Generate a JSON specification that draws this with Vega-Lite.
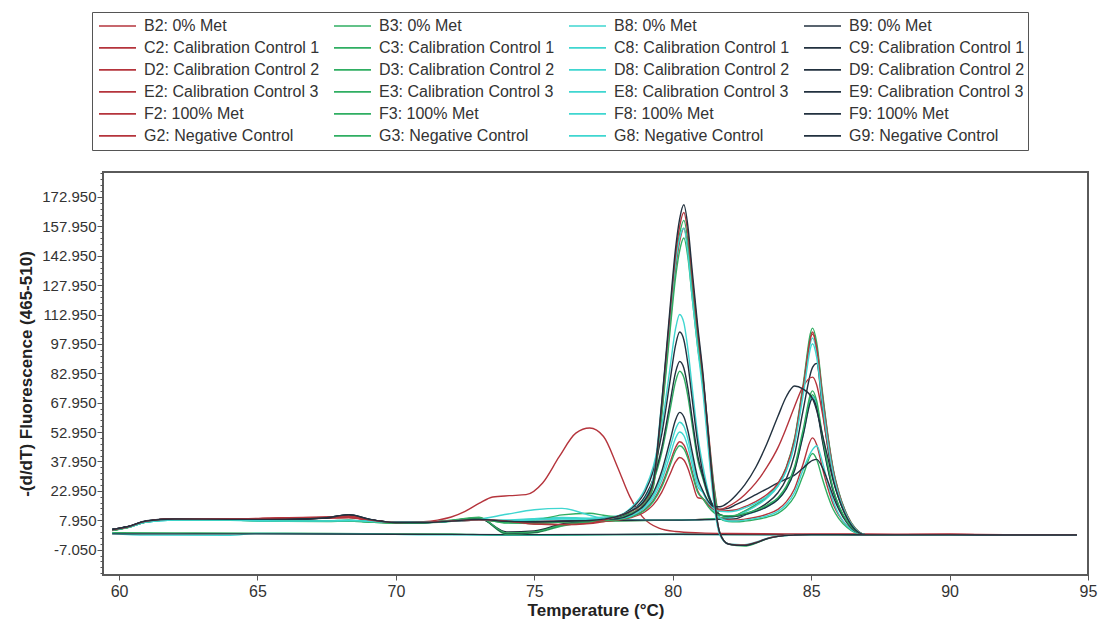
{
"$schema": "https://vega.github.io/schema/vega-lite/v6.json",
"width": 985, "height": 403,
"autosize": {"type": "none"},
"padding": {"left": 103, "top": 172, "right": 12, "bottom": 49},
"background": "white",
"config": {"view": {"stroke": "#5a5a5a", "strokeWidth": 2}, "font": "Liberation Sans"},
"datasets": {
"names": [
{"k":"B2","n":"B2: 0% Met"},{"k":"B3","n":"B3: 0% Met"},{"k":"B8","n":"B8: 0% Met"},{"k":"B9","n":"B9: 0% Met"},
{"k":"C2","n":"C2: Calibration Control 1"},{"k":"C3","n":"C3: Calibration Control 1"},{"k":"C8","n":"C8: Calibration Control 1"},{"k":"C9","n":"C9: Calibration Control 1"},
{"k":"D2","n":"D2: Calibration Control 2"},{"k":"D3","n":"D3: Calibration Control 2"},{"k":"D8","n":"D8: Calibration Control 2"},{"k":"D9","n":"D9: Calibration Control 2"},
{"k":"E2","n":"E2: Calibration Control 3"},{"k":"E3","n":"E3: Calibration Control 3"},{"k":"E8","n":"E8: Calibration Control 3"},{"k":"E9","n":"E9: Calibration Control 3"},
{"k":"F2","n":"F2: 100% Met"},{"k":"F3","n":"F3: 100% Met"},{"k":"F8","n":"F8: 100% Met"},{"k":"F9","n":"F9: 100% Met"},
{"k":"G2","n":"G2: Negative Control"},{"k":"G3","n":"G3: Negative Control"},{"k":"G8","n":"G8: Negative Control"},{"k":"G9","n":"G9: Negative Control"}
],
"curves": [
{"k":"G3","x":59.75,"y":1.6},{"k":"G3","x":62,"y":1.5},{"k":"G3","x":66,"y":1.3},{"k":"G3","x":70,"y":1.0},{"k":"G3","x":72,"y":1.0},{"k":"G3","x":73.5,"y":0.3},{"k":"G3","x":75,"y":0.2},{"k":"G3","x":77,"y":0.5},{"k":"G3","x":80,"y":0.8},{"k":"G3","x":84,"y":0.6},{"k":"G3","x":88,"y":0.5},{"k":"G3","x":94.6,"y":0.4},
{"k":"G8","x":59.75,"y":1.2},{"k":"G8","x":61,"y":0.4},{"k":"G8","x":64,"y":0.3},{"k":"G8","x":65,"y":1.2},{"k":"G8","x":69,"y":1.0},{"k":"G8","x":71,"y":0.5},{"k":"G8","x":75,"y":0.4},{"k":"G8","x":80,"y":0.7},{"k":"G8","x":85,"y":0.5},{"k":"G8","x":90,"y":0.4},{"k":"G8","x":94.6,"y":0.3},
{"k":"G9","x":59.75,"y":1.0},{"k":"G9","x":64,"y":1.0},{"k":"G9","x":70,"y":0.8},{"k":"G9","x":75,"y":0.6},{"k":"G9","x":80,"y":0.8},{"k":"G9","x":85,"y":0.6},{"k":"G9","x":90,"y":0.5},{"k":"G9","x":94.6,"y":0.3},
{"k":"G2","x":59.75,"y":3},{"k":"G2","x":60.3,"y":4.4},{"k":"G2","x":61,"y":7.3},{"k":"G2","x":62,"y":8.4},{"k":"G2","x":64,"y":8.4},{"k":"G2","x":66,"y":8.8},{"k":"G2","x":67.5,"y":9},{"k":"G2","x":68.3,"y":9.2},{"k":"G2","x":69,"y":8},{"k":"G2","x":70,"y":6.8},{"k":"G2","x":71,"y":7.2},{"k":"G2","x":71.5,"y":8},{"k":"G2","x":72,"y":9.6},{"k":"G2","x":72.5,"y":12.5},{"k":"G2","x":73,"y":16.5},{"k":"G2","x":73.5,"y":19.8},{"k":"G2","x":74.1,"y":20.5},{"k":"G2","x":74.7,"y":21},{"k":"G2","x":75.3,"y":27},{"k":"G2","x":75.9,"y":40.4},{"k":"G2","x":76.5,"y":52.4},{"k":"G2","x":77,"y":55},{"k":"G2","x":77.5,"y":50.7},{"k":"G2","x":78,"y":35.3},{"k":"G2","x":78.45,"y":20},{"k":"G2","x":78.9,"y":9.8},{"k":"G2","x":79.5,"y":3.9},{"k":"G2","x":80.1,"y":2.2},{"k":"G2","x":81,"y":1.5},{"k":"G2","x":82,"y":1.2},{"k":"G2","x":84,"y":1},{"k":"G2","x":86,"y":1},{"k":"G2","x":88,"y":0.8},{"k":"G2","x":90,"y":0.8},{"k":"G2","x":92,"y":0.6},{"k":"G2","x":94.6,"y":0.6},

{"k":"F2","x":59.75,"y":3},{"k":"F2","x":60.3,"y":4.4},{"k":"F2","x":61,"y":7.3},{"k":"F2","x":62,"y":8.5},{"k":"F2","x":64,"y":8.4},{"k":"F2","x":66,"y":8.8},{"k":"F2","x":67.5,"y":9.2},{"k":"F2","x":68.3,"y":9.4},{"k":"F2","x":69,"y":8},{"k":"F2","x":70,"y":6.8},{"k":"F2","x":71,"y":6.9},{"k":"F2","x":72,"y":7.5},{"k":"F2","x":73,"y":8},{"k":"F2","x":74,"y":7.5},{"k":"F2","x":75,"y":7.2},{"k":"F2","x":76,"y":7.3},{"k":"F2","x":77,"y":7.6},
{"k":"F2","x":78,"y":7.8},{"k":"F2","x":79,"y":7.9},{"k":"F2","x":80,"y":8},{"k":"F2","x":81,"y":8.3},{"k":"F2","x":81.7,"y":8.8},{"k":"F2","x":82,"y":9.4},
{"k":"F2","x":82.3,"y":10.4},{"k":"F2","x":82.6,"y":12.5},{"k":"F2","x":83,"y":15.6},{"k":"F2","x":83.4,"y":19.8},{"k":"F2","x":83.8,"y":26},{"k":"F2","x":84.1,"y":34.3},{"k":"F2","x":84.4,"y":48.9},{"k":"F2","x":84.7,"y":74.9},{"k":"F2","x":85.05,"y":104},{"k":"F2","x":85.2,"y":96.7},{"k":"F2","x":85.4,"y":72.8},{"k":"F2","x":85.6,"y":51},{"k":"F2","x":85.8,"y":33.3},{"k":"F2","x":86,"y":21.8},{"k":"F2","x":86.3,"y":10.4},{"k":"F2","x":86.6,"y":3.6},{"k":"F2","x":87,"y":0.5},
{"k":"F2","x":88,"y":0.6},{"k":"F2","x":90,"y":0.7},{"k":"F2","x":92,"y":0.5},{"k":"F2","x":94.6,"y":0.5},

{"k":"F3","x":59.75,"y":2.7},{"k":"F3","x":60.3,"y":4.1},{"k":"F3","x":61,"y":7.1},{"k":"F3","x":62,"y":8.2},{"k":"F3","x":64,"y":8},{"k":"F3","x":66,"y":7.4},{"k":"F3","x":67.5,"y":7.3},{"k":"F3","x":68.3,"y":7.5},{"k":"F3","x":69,"y":7},{"k":"F3","x":70,"y":6.5},{"k":"F3","x":71,"y":6.7},{"k":"F3","x":72,"y":7.8},{"k":"F3","x":73,"y":9.2},{"k":"F3","x":74,"y":0.8},{"k":"F3","x":75,"y":1.5},{"k":"F3","x":76,"y":5},{"k":"F3","x":77,"y":7.2},
{"k":"F3","x":78,"y":7.6},{"k":"F3","x":79,"y":7.8},{"k":"F3","x":80,"y":8},{"k":"F3","x":81,"y":8.4},{"k":"F3","x":81.7,"y":9},{"k":"F3","x":82,"y":9.6},
{"k":"F3","x":82.3,"y":10.6},{"k":"F3","x":82.6,"y":12.7},{"k":"F3","x":83,"y":15.9},{"k":"F3","x":83.4,"y":20.1},{"k":"F3","x":83.8,"y":26.5},{"k":"F3","x":84.1,"y":35},{"k":"F3","x":84.4,"y":49.8},{"k":"F3","x":84.7,"y":76.3},{"k":"F3","x":85.05,"y":106},{"k":"F3","x":85.2,"y":98.6},{"k":"F3","x":85.4,"y":74.2},{"k":"F3","x":85.6,"y":51.9},{"k":"F3","x":85.8,"y":33.9},{"k":"F3","x":86,"y":22.3},{"k":"F3","x":86.3,"y":10.6},{"k":"F3","x":86.6,"y":3.7},{"k":"F3","x":87,"y":0.5},
{"k":"F3","x":88,"y":0.5},{"k":"F3","x":90,"y":0.5},{"k":"F3","x":92,"y":0.4},{"k":"F3","x":94.6,"y":0.4},

{"k":"F8","x":59.75,"y":3.1},{"k":"F8","x":60.3,"y":4.4},{"k":"F8","x":61,"y":7.1},{"k":"F8","x":62,"y":8.1},{"k":"F8","x":64,"y":8},{"k":"F8","x":66,"y":7.5},{"k":"F8","x":67.5,"y":7.5},{"k":"F8","x":68.3,"y":7.7},{"k":"F8","x":69,"y":7.3},{"k":"F8","x":70,"y":6.8},{"k":"F8","x":71,"y":6.9},{"k":"F8","x":72,"y":7.6},{"k":"F8","x":73,"y":8.2},{"k":"F8","x":74,"y":7.9},{"k":"F8","x":75,"y":8.6},{"k":"F8","x":76,"y":9},{"k":"F8","x":77,"y":8.6},
{"k":"F8","x":78,"y":8.3},{"k":"F8","x":79,"y":8.1},{"k":"F8","x":80,"y":8},{"k":"F8","x":81,"y":8.2},{"k":"F8","x":81.7,"y":8.6},{"k":"F8","x":82,"y":9.1},
{"k":"F8","x":82.3,"y":10.1},{"k":"F8","x":82.6,"y":12.1},{"k":"F8","x":83,"y":15.2},{"k":"F8","x":83.4,"y":19.2},{"k":"F8","x":83.8,"y":25.3},{"k":"F8","x":84.1,"y":33.3},{"k":"F8","x":84.4,"y":47.5},{"k":"F8","x":84.7,"y":72.7},{"k":"F8","x":85.05,"y":101},{"k":"F8","x":85.2,"y":93.9},{"k":"F8","x":85.4,"y":70.7},{"k":"F8","x":85.6,"y":49.5},{"k":"F8","x":85.8,"y":32.3},{"k":"F8","x":86,"y":21.2},{"k":"F8","x":86.3,"y":10.1},{"k":"F8","x":86.6,"y":3.5},{"k":"F8","x":87,"y":0.5},
{"k":"F8","x":88,"y":0.4},{"k":"F8","x":90,"y":0.5},{"k":"F8","x":92,"y":0.4},{"k":"F8","x":94.6,"y":0.3},

{"k":"F9","x":59.75,"y":3.1},{"k":"F9","x":60.3,"y":4.5},{"k":"F9","x":61,"y":7.5},{"k":"F9","x":62,"y":8.5},{"k":"F9","x":64,"y":8.3},{"k":"F9","x":66,"y":8.3},{"k":"F9","x":67.5,"y":9.2},{"k":"F9","x":68.3,"y":10.4},{"k":"F9","x":69,"y":8.3},{"k":"F9","x":70,"y":6.7},{"k":"F9","x":71,"y":6.8},{"k":"F9","x":72,"y":7.7},{"k":"F9","x":73,"y":9.3},{"k":"F9","x":74,"y":1.2},{"k":"F9","x":75,"y":1.8},{"k":"F9","x":76,"y":5.6},{"k":"F9","x":77,"y":7.6},
{"k":"F9","x":78,"y":7.9},{"k":"F9","x":79,"y":8},{"k":"F9","x":80,"y":8},{"k":"F9","x":81,"y":8.2},{"k":"F9","x":81.7,"y":8.4},{"k":"F9","x":82,"y":8.5},
{"k":"F9","x":82.3,"y":8.8},{"k":"F9","x":82.6,"y":10.6},{"k":"F9","x":83,"y":13.2},{"k":"F9","x":83.4,"y":16.7},{"k":"F9","x":83.8,"y":22},{"k":"F9","x":84.1,"y":29},{"k":"F9","x":84.4,"y":41.4},{"k":"F9","x":84.7,"y":63.4},{"k":"F9","x":85.05,"y":86},{"k":"F9","x":85.2,"y":88},{"k":"F9","x":85.4,"y":66},{"k":"F9","x":85.6,"y":45},{"k":"F9","x":85.8,"y":29},{"k":"F9","x":86,"y":19},{"k":"F9","x":86.3,"y":9},{"k":"F9","x":86.6,"y":3.1},{"k":"F9","x":87,"y":0.5},
{"k":"F9","x":88,"y":0.5},{"k":"F9","x":90,"y":0.5},{"k":"F9","x":92,"y":0.4},{"k":"F9","x":94.6,"y":0.4},

{"k":"C2","x":59.75,"y":3},{"k":"C2","x":60.3,"y":4.4},{"k":"C2","x":61,"y":7.3},{"k":"C2","x":62,"y":8.5},{"k":"C2","x":64,"y":8.4},{"k":"C2","x":66,"y":8.8},{"k":"C2","x":67.5,"y":9.2},{"k":"C2","x":68.3,"y":9.4},{"k":"C2","x":69,"y":8},{"k":"C2","x":70,"y":6.8},{"k":"C2","x":71,"y":6.9},{"k":"C2","x":72,"y":7.5},{"k":"C2","x":73,"y":8},{"k":"C2","x":74,"y":7.5},{"k":"C2","x":75,"y":7.2},{"k":"C2","x":76,"y":7.3},{"k":"C2","x":77,"y":7.6},
{"k":"C2","x":77.5,"y":7.8},{"k":"C2","x":78,"y":8.8},{"k":"C2","x":78.5,"y":11.5},{"k":"C2","x":79,"y":16.8},{"k":"C2","x":79.3,"y":25.8},{"k":"C2","x":79.6,"y":62.5},{"k":"C2","x":79.9,"y":107.5},{"k":"C2","x":80.1,"y":136},{"k":"C2","x":80.25,"y":150.3},{"k":"C2","x":80.4,"y":157},{"k":"C2","x":80.55,"y":146.5},{"k":"C2","x":80.7,"y":126},{"k":"C2","x":80.9,"y":99.5},{"k":"C2","x":81.1,"y":79.5},{"k":"C2","x":81.3,"y":51.5},{"k":"C2","x":81.5,"y":24.5},{"k":"C2","x":81.7,"y":9.5},{"k":"C2","x":82,"y":8},
{"k":"C2","x":82.3,"y":8},{"k":"C2","x":82.6,"y":8.5},{"k":"C2","x":83,"y":9.5},{"k":"C2","x":83.4,"y":11},{"k":"C2","x":83.8,"y":13.5},{"k":"C2","x":84.1,"y":17.3},{"k":"C2","x":84.4,"y":24},{"k":"C2","x":84.7,"y":36.3},{"k":"C2","x":85.05,"y":50},{"k":"C2","x":85.2,"y":46.5},{"k":"C2","x":85.4,"y":35},{"k":"C2","x":85.6,"y":24.5},{"k":"C2","x":85.8,"y":16},{"k":"C2","x":86,"y":10.5},{"k":"C2","x":86.3,"y":5},{"k":"C2","x":86.6,"y":1.8},{"k":"C2","x":87,"y":0.5},
{"k":"C2","x":88,"y":0.5},{"k":"C2","x":90,"y":0.6},{"k":"C2","x":92,"y":0.5},{"k":"C2","x":94.6,"y":0.5},

{"k":"C3","x":59.75,"y":2.9},{"k":"C3","x":60.3,"y":4.3},{"k":"C3","x":61,"y":7.3},{"k":"C3","x":62,"y":8.4},{"k":"C3","x":64,"y":8.3},{"k":"C3","x":66,"y":7.8},{"k":"C3","x":67.5,"y":7.7},{"k":"C3","x":68.3,"y":8},{"k":"C3","x":69,"y":7.4},{"k":"C3","x":70,"y":6.7},{"k":"C3","x":71,"y":6.8},{"k":"C3","x":72,"y":7.6},{"k":"C3","x":73,"y":8.4},{"k":"C3","x":74,"y":6.8},{"k":"C3","x":75,"y":6.6},{"k":"C3","x":76,"y":7.2},{"k":"C3","x":77,"y":7.7},
{"k":"C3","x":77.5,"y":7.9},{"k":"C3","x":78,"y":8.7},{"k":"C3","x":78.5,"y":11.4},{"k":"C3","x":79,"y":16.4},{"k":"C3","x":79.3,"y":25.1},{"k":"C3","x":79.6,"y":60.7},{"k":"C3","x":79.9,"y":104.2},{"k":"C3","x":80.1,"y":131.7},{"k":"C3","x":80.25,"y":145.5},{"k":"C3","x":80.4,"y":152},{"k":"C3","x":80.55,"y":141.9},{"k":"C3","x":80.7,"y":122},{"k":"C3","x":80.9,"y":96.4},{"k":"C3","x":81.1,"y":76.7},{"k":"C3","x":81.3,"y":49.5},{"k":"C3","x":81.5,"y":23.4},{"k":"C3","x":81.7,"y":8.9},{"k":"C3","x":82,"y":7.3},
{"k":"C3","x":82.3,"y":7.2},{"k":"C3","x":82.6,"y":7.5},{"k":"C3","x":83,"y":8.3},{"k":"C3","x":83.4,"y":9.5},{"k":"C3","x":83.8,"y":11.5},{"k":"C3","x":84.1,"y":14.7},{"k":"C3","x":84.4,"y":20.2},{"k":"C3","x":84.7,"y":30.5},{"k":"C3","x":85.05,"y":42},{"k":"C3","x":85.2,"y":39},{"k":"C3","x":85.4,"y":29.4},{"k":"C3","x":85.6,"y":20.6},{"k":"C3","x":85.8,"y":13.4},{"k":"C3","x":86,"y":8.8},{"k":"C3","x":86.3,"y":4.2},{"k":"C3","x":86.6,"y":1.5},{"k":"C3","x":87,"y":0.4},
{"k":"C3","x":88,"y":0.5},{"k":"C3","x":90,"y":0.5},{"k":"C3","x":92,"y":0.4},{"k":"C3","x":94.6,"y":0.4},

{"k":"C8","x":59.75,"y":3.1},{"k":"C8","x":60.3,"y":4.4},{"k":"C8","x":61,"y":7.1},{"k":"C8","x":62,"y":8.1},{"k":"C8","x":64,"y":8.1},{"k":"C8","x":66,"y":7.7},{"k":"C8","x":67.5,"y":7.7},{"k":"C8","x":68.3,"y":7.9},{"k":"C8","x":69,"y":7.5},{"k":"C8","x":70,"y":7},{"k":"C8","x":71,"y":7},{"k":"C8","x":72,"y":7.6},{"k":"C8","x":73,"y":8.3},{"k":"C8","x":74,"y":8},{"k":"C8","x":75,"y":8.8},{"k":"C8","x":76,"y":9.4},{"k":"C8","x":77,"y":9},
{"k":"C8","x":77.5,"y":9.6},{"k":"C8","x":78,"y":10.2},{"k":"C8","x":78.5,"y":14.4},{"k":"C8","x":79,"y":24},{"k":"C8","x":79.3,"y":35.6},{"k":"C8","x":79.6,"y":55.8},{"k":"C8","x":79.9,"y":85.4},{"k":"C8","x":80.1,"y":105.6},{"k":"C8","x":80.25,"y":113},{"k":"C8","x":80.4,"y":108.8},{"k":"C8","x":80.55,"y":95},{"k":"C8","x":80.7,"y":76},{"k":"C8","x":80.9,"y":51.6},{"k":"C8","x":81.1,"y":34.9},{"k":"C8","x":81.3,"y":21.6},{"k":"C8","x":81.5,"y":13},{"k":"C8","x":81.7,"y":9.3},{"k":"C8","x":82,"y":7.6},
{"k":"C8","x":82.3,"y":7.6},{"k":"C8","x":82.6,"y":8},{"k":"C8","x":83,"y":8.9},{"k":"C8","x":83.4,"y":10.2},{"k":"C8","x":83.8,"y":12.5},{"k":"C8","x":84.1,"y":16},{"k":"C8","x":84.4,"y":22.1},{"k":"C8","x":84.7,"y":33.4},{"k":"C8","x":85.05,"y":44},{"k":"C8","x":85.2,"y":46},{"k":"C8","x":85.4,"y":38},{"k":"C8","x":85.6,"y":27},{"k":"C8","x":85.8,"y":17.5},{"k":"C8","x":86,"y":11},{"k":"C8","x":86.3,"y":5},{"k":"C8","x":86.6,"y":1.7},{"k":"C8","x":87,"y":0.4},
{"k":"C8","x":88,"y":0.4},{"k":"C8","x":90,"y":0.5},{"k":"C8","x":92,"y":0.4},{"k":"C8","x":94.6,"y":0.3},

{"k":"C9","x":59.75,"y":3.3},{"k":"C9","x":60.3,"y":4.7},{"k":"C9","x":61,"y":7.7},{"k":"C9","x":62,"y":8.7},{"k":"C9","x":64,"y":8.5},{"k":"C9","x":66,"y":8.5},{"k":"C9","x":67.5,"y":9.1},{"k":"C9","x":68.3,"y":10.4},{"k":"C9","x":69,"y":8.5},{"k":"C9","x":70,"y":6.9},{"k":"C9","x":71,"y":6.9},{"k":"C9","x":72,"y":7.6},{"k":"C9","x":73,"y":8.3},{"k":"C9","x":74,"y":7.5},{"k":"C9","x":75,"y":7.3},{"k":"C9","x":76,"y":7.5},{"k":"C9","x":77,"y":7.9},
{"k":"C9","x":77.5,"y":8.8},{"k":"C9","x":78,"y":9.9},{"k":"C9","x":78.5,"y":13.8},{"k":"C9","x":79,"y":22.5},{"k":"C9","x":79.3,"y":33.2},{"k":"C9","x":79.6,"y":51.6},{"k":"C9","x":79.9,"y":78.8},{"k":"C9","x":80.1,"y":97.2},{"k":"C9","x":80.25,"y":104},{"k":"C9","x":80.4,"y":100.1},{"k":"C9","x":80.55,"y":87.5},{"k":"C9","x":80.7,"y":70},{"k":"C9","x":80.9,"y":47.7},{"k":"C9","x":81.1,"y":31.2},{"k":"C9","x":81.3,"y":20.6},{"k":"C9","x":81.5,"y":14.9},{"k":"C9","x":81.7,"y":13.5},{"k":"C9","x":82,"y":14},
{"k":"C9","x":82.3,"y":16},{"k":"C9","x":82.6,"y":18},{"k":"C9","x":83,"y":21},{"k":"C9","x":83.4,"y":24},{"k":"C9","x":83.8,"y":27},{"k":"C9","x":84.1,"y":29},{"k":"C9","x":84.4,"y":31},{"k":"C9","x":84.7,"y":34.5},{"k":"C9","x":85.05,"y":38.5},{"k":"C9","x":85.2,"y":39},{"k":"C9","x":85.4,"y":35},{"k":"C9","x":85.6,"y":28},{"k":"C9","x":85.8,"y":20},{"k":"C9","x":86,"y":13.5},{"k":"C9","x":86.3,"y":6.5},{"k":"C9","x":86.6,"y":2.2},{"k":"C9","x":87,"y":0.5},
{"k":"C9","x":88,"y":0.5},{"k":"C9","x":90,"y":0.5},{"k":"C9","x":92,"y":0.4},{"k":"C9","x":94.6,"y":0.4},

{"k":"D2","x":59.75,"y":3},{"k":"D2","x":60.3,"y":4.4},{"k":"D2","x":61,"y":7.4},{"k":"D2","x":62,"y":8.5},{"k":"D2","x":64,"y":8.5},{"k":"D2","x":66,"y":9},{"k":"D2","x":67.5,"y":9.4},{"k":"D2","x":68.3,"y":9.6},{"k":"D2","x":69,"y":8.1},{"k":"D2","x":70,"y":6.9},{"k":"D2","x":71,"y":7},{"k":"D2","x":72,"y":7.6},{"k":"D2","x":73,"y":8.1},{"k":"D2","x":74,"y":7.4},{"k":"D2","x":75,"y":7},{"k":"D2","x":76,"y":7.2},{"k":"D2","x":77,"y":7.5},
{"k":"D2","x":77.5,"y":7.9},{"k":"D2","x":78,"y":8.2},{"k":"D2","x":78.5,"y":9.9},{"k":"D2","x":79,"y":13.6},{"k":"D2","x":79.3,"y":18.1},{"k":"D2","x":79.6,"y":25.9},{"k":"D2","x":79.9,"y":37.3},{"k":"D2","x":80.1,"y":45.1},{"k":"D2","x":80.25,"y":48},{"k":"D2","x":80.4,"y":46.4},{"k":"D2","x":80.55,"y":41},{"k":"D2","x":80.7,"y":33},{"k":"D2","x":80.9,"y":23},{"k":"D2","x":81.1,"y":18.7},{"k":"D2","x":81.3,"y":15.3},{"k":"D2","x":81.5,"y":14},{"k":"D2","x":81.7,"y":13.5},{"k":"D2","x":82,"y":15},
{"k":"D2","x":82.3,"y":17.5},{"k":"D2","x":82.6,"y":21},{"k":"D2","x":83,"y":27},{"k":"D2","x":83.4,"y":35},{"k":"D2","x":83.8,"y":45},{"k":"D2","x":84.1,"y":55},{"k":"D2","x":84.4,"y":66},{"k":"D2","x":84.7,"y":76},{"k":"D2","x":85.05,"y":81},{"k":"D2","x":85.2,"y":77},{"k":"D2","x":85.4,"y":63},{"k":"D2","x":85.6,"y":46},{"k":"D2","x":85.8,"y":31},{"k":"D2","x":86,"y":20},{"k":"D2","x":86.3,"y":9.5},{"k":"D2","x":86.6,"y":3.3},{"k":"D2","x":87,"y":0.5},
{"k":"D2","x":88,"y":0.6},{"k":"D2","x":90,"y":0.7},{"k":"D2","x":92,"y":0.5},{"k":"D2","x":94.6,"y":0.5},

{"k":"D3","x":59.75,"y":2.8},{"k":"D3","x":60.3,"y":4.2},{"k":"D3","x":61,"y":7.2},{"k":"D3","x":62,"y":8.2},{"k":"D3","x":64,"y":8.1},{"k":"D3","x":66,"y":7.5},{"k":"D3","x":67.5,"y":7.4},{"k":"D3","x":68.3,"y":7.7},{"k":"D3","x":69,"y":7.1},{"k":"D3","x":70,"y":6.5},{"k":"D3","x":71,"y":6.6},{"k":"D3","x":72,"y":7.4},{"k":"D3","x":73,"y":8.5},{"k":"D3","x":74,"y":7.5},{"k":"D3","x":75,"y":8},{"k":"D3","x":76,"y":10.7},{"k":"D3","x":77,"y":11.5},
{"k":"D3","x":77.5,"y":10.5},{"k":"D3","x":78,"y":9.8},{"k":"D3","x":78.5,"y":12.4},{"k":"D3","x":79,"y":19.3},{"k":"D3","x":79.3,"y":27.8},{"k":"D3","x":79.6,"y":42.4},{"k":"D3","x":79.9,"y":64},{"k":"D3","x":80.1,"y":78.6},{"k":"D3","x":80.25,"y":84},{"k":"D3","x":80.4,"y":80.9},{"k":"D3","x":80.55,"y":70.9},{"k":"D3","x":80.7,"y":56.8},{"k":"D3","x":80.9,"y":38.9},{"k":"D3","x":81.1,"y":28.6},{"k":"D3","x":81.3,"y":19.3},{"k":"D3","x":81.5,"y":13.4},{"k":"D3","x":81.7,"y":11},{"k":"D3","x":82,"y":10},
{"k":"D3","x":82.3,"y":10.2},{"k":"D3","x":82.6,"y":11.1},{"k":"D3","x":83,"y":12.8},{"k":"D3","x":83.4,"y":15.2},{"k":"D3","x":83.8,"y":19},{"k":"D3","x":84.1,"y":24.6},{"k":"D3","x":84.4,"y":34.3},{"k":"D3","x":84.7,"y":52.1},{"k":"D3","x":85.05,"y":72},{"k":"D3","x":85.2,"y":67},{"k":"D3","x":85.4,"y":50.4},{"k":"D3","x":85.6,"y":35.3},{"k":"D3","x":85.8,"y":23},{"k":"D3","x":86,"y":15.1},{"k":"D3","x":86.3,"y":7.2},{"k":"D3","x":86.6,"y":2.5},{"k":"D3","x":87,"y":0.5},
{"k":"D3","x":88,"y":0.5},{"k":"D3","x":90,"y":0.6},{"k":"D3","x":92,"y":0.5},{"k":"D3","x":94.6,"y":0.4},

{"k":"D8","x":59.75,"y":3},{"k":"D8","x":60.3,"y":4.3},{"k":"D8","x":61,"y":7},{"k":"D8","x":62,"y":8},{"k":"D8","x":64,"y":7.9},{"k":"D8","x":66,"y":7.5},{"k":"D8","x":67.5,"y":7.5},{"k":"D8","x":68.3,"y":7.7},{"k":"D8","x":69,"y":7.3},{"k":"D8","x":70,"y":6.8},{"k":"D8","x":71,"y":6.8},{"k":"D8","x":72,"y":7.4},{"k":"D8","x":73,"y":8.1},{"k":"D8","x":74,"y":7.7},{"k":"D8","x":75,"y":8.2},{"k":"D8","x":76,"y":8.6},{"k":"D8","x":77,"y":8.4},
{"k":"D8","x":77.5,"y":8.8},{"k":"D8","x":78,"y":8.6},{"k":"D8","x":78.5,"y":10.6},{"k":"D8","x":79,"y":15.2},{"k":"D8","x":79.3,"y":20.8},{"k":"D8","x":79.6,"y":30.5},{"k":"D8","x":79.9,"y":44.7},{"k":"D8","x":80.1,"y":54.4},{"k":"D8","x":80.25,"y":58},{"k":"D8","x":80.4,"y":56},{"k":"D8","x":80.55,"y":49.3},{"k":"D8","x":80.7,"y":39.7},{"k":"D8","x":80.9,"y":27.4},{"k":"D8","x":81.1,"y":21.9},{"k":"D8","x":81.3,"y":15.9},{"k":"D8","x":81.5,"y":12.1},{"k":"D8","x":81.7,"y":10.6},{"k":"D8","x":82,"y":10},
{"k":"D8","x":82.3,"y":10},{"k":"D8","x":82.6,"y":10.8},{"k":"D8","x":83,"y":12.4},{"k":"D8","x":83.4,"y":14.8},{"k":"D8","x":83.8,"y":18.5},{"k":"D8","x":84.1,"y":24},{"k":"D8","x":84.4,"y":33.5},{"k":"D8","x":84.7,"y":51},{"k":"D8","x":85.05,"y":71},{"k":"D8","x":85.2,"y":66.5},{"k":"D8","x":85.4,"y":50},{"k":"D8","x":85.6,"y":35},{"k":"D8","x":85.8,"y":23},{"k":"D8","x":86,"y":15},{"k":"D8","x":86.3,"y":7.2},{"k":"D8","x":86.6,"y":2.5},{"k":"D8","x":87,"y":0.5},
{"k":"D8","x":88,"y":0.4},{"k":"D8","x":90,"y":0.5},{"k":"D8","x":92,"y":0.4},{"k":"D8","x":94.6,"y":0.3},

{"k":"D9","x":59.75,"y":3.2},{"k":"D9","x":60.3,"y":4.6},{"k":"D9","x":61,"y":7.6},{"k":"D9","x":62,"y":8.6},{"k":"D9","x":64,"y":8.4},{"k":"D9","x":66,"y":8.4},{"k":"D9","x":67.5,"y":9.4},{"k":"D9","x":68.3,"y":10.6},{"k":"D9","x":69,"y":8.4},{"k":"D9","x":70,"y":6.8},{"k":"D9","x":71,"y":6.8},{"k":"D9","x":72,"y":7.6},{"k":"D9","x":73,"y":9},{"k":"D9","x":74,"y":2},{"k":"D9","x":75,"y":2.5},{"k":"D9","x":76,"y":6},{"k":"D9","x":77,"y":7.5},
{"k":"D9","x":77.5,"y":8.3},{"k":"D9","x":78,"y":9.5},{"k":"D9","x":78.5,"y":12.7},{"k":"D9","x":79,"y":20.1},{"k":"D9","x":79.3,"y":29.1},{"k":"D9","x":79.6,"y":44.7},{"k":"D9","x":79.9,"y":67.7},{"k":"D9","x":80.1,"y":83.3},{"k":"D9","x":80.25,"y":89},{"k":"D9","x":80.4,"y":85.7},{"k":"D9","x":80.55,"y":75.1},{"k":"D9","x":80.7,"y":60.1},{"k":"D9","x":80.9,"y":41.1},{"k":"D9","x":81.1,"y":29.8},{"k":"D9","x":81.3,"y":19.9},{"k":"D9","x":81.5,"y":13.5},{"k":"D9","x":81.7,"y":10.8},{"k":"D9","x":82,"y":9.8},
{"k":"D9","x":82.3,"y":10},{"k":"D9","x":82.6,"y":10.9},{"k":"D9","x":83,"y":12.5},{"k":"D9","x":83.4,"y":14.8},{"k":"D9","x":83.8,"y":18.5},{"k":"D9","x":84.1,"y":23.9},{"k":"D9","x":84.4,"y":33.4},{"k":"D9","x":84.7,"y":50.7},{"k":"D9","x":85.05,"y":70},{"k":"D9","x":85.2,"y":65.1},{"k":"D9","x":85.4,"y":49},{"k":"D9","x":85.6,"y":34.3},{"k":"D9","x":85.8,"y":22.4},{"k":"D9","x":86,"y":14.7},{"k":"D9","x":86.3,"y":7},{"k":"D9","x":86.6,"y":2.5},{"k":"D9","x":87,"y":0.5},
{"k":"D9","x":88,"y":0.5},{"k":"D9","x":90,"y":0.5},{"k":"D9","x":92,"y":0.4},{"k":"D9","x":94.6,"y":0.4},

{"k":"E2","x":59.75,"y":3},{"k":"E2","x":60.3,"y":4.5},{"k":"E2","x":61,"y":7.4},{"k":"E2","x":62,"y":8.6},{"k":"E2","x":64,"y":8.5},{"k":"E2","x":66,"y":9.2},{"k":"E2","x":67.5,"y":9.5},{"k":"E2","x":68.3,"y":9.9},{"k":"E2","x":69,"y":8.1},{"k":"E2","x":70,"y":6.8},{"k":"E2","x":71,"y":7},{"k":"E2","x":72,"y":7.6},{"k":"E2","x":73,"y":8.1},{"k":"E2","x":74,"y":7.5},{"k":"E2","x":75,"y":6},{"k":"E2","x":76,"y":5.6},{"k":"E2","x":77,"y":6.3},
{"k":"E2","x":77.5,"y":7.2},{"k":"E2","x":78,"y":8},{"k":"E2","x":78.5,"y":9.3},{"k":"E2","x":79,"y":12.3},{"k":"E2","x":79.3,"y":15.9},{"k":"E2","x":79.6,"y":22.2},{"k":"E2","x":79.9,"y":31.4},{"k":"E2","x":80.1,"y":37.7},{"k":"E2","x":80.25,"y":40},{"k":"E2","x":80.4,"y":38.7},{"k":"E2","x":80.55,"y":34.4},{"k":"E2","x":80.7,"y":27.8},{"k":"E2","x":80.9,"y":19.5},{"k":"E2","x":81.1,"y":18.8},{"k":"E2","x":81.3,"y":15.5},{"k":"E2","x":81.5,"y":13.4},{"k":"E2","x":81.7,"y":12.7},{"k":"E2","x":82,"y":12.8},
{"k":"E2","x":82.3,"y":13.3},{"k":"E2","x":82.6,"y":14.9},{"k":"E2","x":83,"y":17.5},{"k":"E2","x":83.4,"y":21.1},{"k":"E2","x":83.8,"y":26.8},{"k":"E2","x":84.1,"y":34.8},{"k":"E2","x":84.4,"y":48.9},{"k":"E2","x":84.7,"y":74.5},{"k":"E2","x":85.05,"y":103},{"k":"E2","x":85.2,"y":95.8},{"k":"E2","x":85.4,"y":72.1},{"k":"E2","x":85.6,"y":50.5},{"k":"E2","x":85.8,"y":33},{"k":"E2","x":86,"y":21.6},{"k":"E2","x":86.3,"y":10.3},{"k":"E2","x":86.6,"y":3.6},{"k":"E2","x":87,"y":0.5},
{"k":"E2","x":88,"y":0.6},{"k":"E2","x":90,"y":0.6},{"k":"E2","x":92,"y":0.5},{"k":"E2","x":94.6,"y":0.5},

{"k":"E3","x":59.75,"y":2.8},{"k":"E3","x":60.3,"y":4.2},{"k":"E3","x":61,"y":7.2},{"k":"E3","x":62,"y":8.3},{"k":"E3","x":64,"y":8.1},{"k":"E3","x":66,"y":7.5},{"k":"E3","x":67.5,"y":7.4},{"k":"E3","x":68.3,"y":7.6},{"k":"E3","x":69,"y":7.1},{"k":"E3","x":70,"y":6.6},{"k":"E3","x":71,"y":6.8},{"k":"E3","x":72,"y":8},{"k":"E3","x":73,"y":9.5},{"k":"E3","x":74,"y":1.5},{"k":"E3","x":75,"y":2},{"k":"E3","x":76,"y":5.5},{"k":"E3","x":77,"y":7},
{"k":"E3","x":77.5,"y":7.8},{"k":"E3","x":78,"y":8.2},{"k":"E3","x":78.5,"y":9.7},{"k":"E3","x":79,"y":13.2},{"k":"E3","x":79.3,"y":17.5},{"k":"E3","x":79.6,"y":24.9},{"k":"E3","x":79.9,"y":35.9},{"k":"E3","x":80.1,"y":43.3},{"k":"E3","x":80.25,"y":46},{"k":"E3","x":80.4,"y":44.4},{"k":"E3","x":80.55,"y":39.4},{"k":"E3","x":80.7,"y":31.7},{"k":"E3","x":80.9,"y":22.2},{"k":"E3","x":81.1,"y":18.8},{"k":"E3","x":81.3,"y":14.5},{"k":"E3","x":81.5,"y":11.7},{"k":"E3","x":81.7,"y":10.5},{"k":"E3","x":82,"y":10.2},
{"k":"E3","x":82.3,"y":10.4},{"k":"E3","x":82.6,"y":11.4},{"k":"E3","x":83,"y":13.1},{"k":"E3","x":83.4,"y":15.6},{"k":"E3","x":83.8,"y":19.5},{"k":"E3","x":84.1,"y":25.2},{"k":"E3","x":84.4,"y":35.3},{"k":"E3","x":84.7,"y":53.6},{"k":"E3","x":85.05,"y":74},{"k":"E3","x":85.2,"y":68.8},{"k":"E3","x":85.4,"y":51.8},{"k":"E3","x":85.6,"y":36.3},{"k":"E3","x":85.8,"y":23.7},{"k":"E3","x":86,"y":15.5},{"k":"E3","x":86.3,"y":7.4},{"k":"E3","x":86.6,"y":2.6},{"k":"E3","x":87,"y":0.5},
{"k":"E3","x":88,"y":0.5},{"k":"E3","x":90,"y":0.5},{"k":"E3","x":92,"y":0.4},{"k":"E3","x":94.6,"y":0.4},

{"k":"E8","x":59.75,"y":3},{"k":"E8","x":60.3,"y":4.3},{"k":"E8","x":61,"y":7},{"k":"E8","x":62,"y":8},{"k":"E8","x":64,"y":8},{"k":"E8","x":66,"y":7.6},{"k":"E8","x":67.5,"y":7.6},{"k":"E8","x":68.3,"y":7.8},{"k":"E8","x":69,"y":7.4},{"k":"E8","x":70,"y":6.9},{"k":"E8","x":71,"y":6.9},{"k":"E8","x":72,"y":7.5},{"k":"E8","x":73,"y":8.5},{"k":"E8","x":74,"y":11},{"k":"E8","x":75,"y":13.3},{"k":"E8","x":76,"y":14},{"k":"E8","x":77,"y":10.5},
{"k":"E8","x":77.5,"y":9},{"k":"E8","x":78,"y":8.8},{"k":"E8","x":78.5,"y":10.2},{"k":"E8","x":79,"y":14.4},{"k":"E8","x":79.3,"y":19.4},{"k":"E8","x":79.6,"y":28.2},{"k":"E8","x":79.9,"y":41},{"k":"E8","x":80.1,"y":49.8},{"k":"E8","x":80.25,"y":53},{"k":"E8","x":80.4,"y":51.2},{"k":"E8","x":80.55,"y":45.2},{"k":"E8","x":80.7,"y":36.4},{"k":"E8","x":80.9,"y":25.2},{"k":"E8","x":81.1,"y":21.9},{"k":"E8","x":81.3,"y":16.9},{"k":"E8","x":81.5,"y":13.7},{"k":"E8","x":81.7,"y":12.5},{"k":"E8","x":82,"y":12.3},
{"k":"E8","x":82.3,"y":12.8},{"k":"E8","x":82.6,"y":14.3},{"k":"E8","x":83,"y":16.7},{"k":"E8","x":83.4,"y":20.1},{"k":"E8","x":83.8,"y":25.5},{"k":"E8","x":84.1,"y":33.1},{"k":"E8","x":84.4,"y":46.6},{"k":"E8","x":84.7,"y":70.9},{"k":"E8","x":85.05,"y":98},{"k":"E8","x":85.2,"y":91.1},{"k":"E8","x":85.4,"y":68.6},{"k":"E8","x":85.6,"y":48},{"k":"E8","x":85.8,"y":31.4},{"k":"E8","x":86,"y":20.6},{"k":"E8","x":86.3,"y":9.8},{"k":"E8","x":86.6,"y":3.4},{"k":"E8","x":87,"y":0.5},
{"k":"E8","x":88,"y":0.4},{"k":"E8","x":90,"y":0.5},{"k":"E8","x":92,"y":0.4},{"k":"E8","x":94.6,"y":0.3},

{"k":"E9","x":59.75,"y":3.2},{"k":"E9","x":60.3,"y":4.6},{"k":"E9","x":61,"y":7.6},{"k":"E9","x":62,"y":8.6},{"k":"E9","x":64,"y":8.4},{"k":"E9","x":66,"y":8.4},{"k":"E9","x":67.5,"y":9.2},{"k":"E9","x":68.3,"y":10.8},{"k":"E9","x":69,"y":8.6},{"k":"E9","x":70,"y":6.8},{"k":"E9","x":71,"y":6.8},{"k":"E9","x":72,"y":7.5},{"k":"E9","x":73,"y":8.4},{"k":"E9","x":74,"y":7.4},{"k":"E9","x":75,"y":7.2},{"k":"E9","x":76,"y":7.4},{"k":"E9","x":77,"y":7.8},
{"k":"E9","x":77.5,"y":8.4},{"k":"E9","x":78,"y":8.7},{"k":"E9","x":78.5,"y":10.9},{"k":"E9","x":79,"y":16},{"k":"E9","x":79.3,"y":22.1},{"k":"E9","x":79.6,"y":32.8},{"k":"E9","x":79.9,"y":48.4},{"k":"E9","x":80.1,"y":59.1},{"k":"E9","x":80.25,"y":63},{"k":"E9","x":80.4,"y":60.8},{"k":"E9","x":80.55,"y":53.5},{"k":"E9","x":80.7,"y":43},{"k":"E9","x":80.9,"y":29.6},{"k":"E9","x":81.1,"y":22.6},{"k":"E9","x":81.3,"y":17.3},{"k":"E9","x":81.5,"y":14.8},{"k":"E9","x":81.7,"y":14.8},{"k":"E9","x":82,"y":17},
{"k":"E9","x":82.3,"y":21},{"k":"E9","x":82.6,"y":26},{"k":"E9","x":83,"y":35},{"k":"E9","x":83.4,"y":47},{"k":"E9","x":83.8,"y":61},{"k":"E9","x":84.1,"y":71},{"k":"E9","x":84.4,"y":76.5},{"k":"E9","x":84.7,"y":75},{"k":"E9","x":85.05,"y":70},{"k":"E9","x":85.2,"y":64},{"k":"E9","x":85.4,"y":52},{"k":"E9","x":85.6,"y":40},{"k":"E9","x":85.8,"y":28},{"k":"E9","x":86,"y":19},{"k":"E9","x":86.3,"y":9},{"k":"E9","x":86.6,"y":3},{"k":"E9","x":87,"y":0.5},
{"k":"E9","x":88,"y":0.5},{"k":"E9","x":90,"y":0.5},{"k":"E9","x":92,"y":0.4},{"k":"E9","x":94.6,"y":0.4},

{"k":"B3","x":59.75,"y":2.8},{"k":"B3","x":60.3,"y":4.2},{"k":"B3","x":61,"y":7.2},{"k":"B3","x":62,"y":8.3},{"k":"B3","x":64,"y":8.2},{"k":"B3","x":66,"y":7.6},{"k":"B3","x":67.5,"y":7.5},{"k":"B3","x":68.3,"y":7.8},{"k":"B3","x":69,"y":7.2},{"k":"B3","x":70,"y":6.6},{"k":"B3","x":71,"y":6.7},{"k":"B3","x":72,"y":7.5},{"k":"B3","x":73,"y":8.6},{"k":"B3","x":74,"y":6.5},{"k":"B3","x":75,"y":6.3},{"k":"B3","x":76,"y":7},{"k":"B3","x":77,"y":7.6},
{"k":"B3","x":77.5,"y":8.2},{"k":"B3","x":78,"y":9.8},{"k":"B3","x":78.5,"y":12.6},{"k":"B3","x":79,"y":17.9},{"k":"B3","x":79.3,"y":27.1},{"k":"B3","x":79.6,"y":64.6},{"k":"B3","x":79.9,"y":110.5},{"k":"B3","x":80.1,"y":139.6},{"k":"B3","x":80.25,"y":154.1},{"k":"B3","x":80.4,"y":161},{"k":"B3","x":80.55,"y":150.3},{"k":"B3","x":80.7,"y":129.4},{"k":"B3","x":80.9,"y":102.4},{"k":"B3","x":81.1,"y":78},{"k":"B3","x":81.3,"y":47.4},{"k":"B3","x":81.5,"y":18.3},{"k":"B3","x":81.7,"y":1.5},{"k":"B3","x":82,"y":-4.1},
{"k":"B3","x":82.3,"y":-5},{"k":"B3","x":82.6,"y":-5.2},{"k":"B3","x":83,"y":-3.8},{"k":"B3","x":83.4,"y":-1.6},{"k":"B3","x":83.8,"y":-0.3},{"k":"B3","x":84.4,"y":0.4},{"k":"B3","x":85,"y":0.6},{"k":"B3","x":86,"y":0.6},{"k":"B3","x":87,"y":0.5},{"k":"B3","x":88,"y":0.5},{"k":"B3","x":90,"y":0.5},{"k":"B3","x":92,"y":0.4},{"k":"B3","x":94.6,"y":0.4},

{"k":"B8","x":59.75,"y":3},{"k":"B8","x":60.3,"y":4.3},{"k":"B8","x":61,"y":7},{"k":"B8","x":62,"y":8},{"k":"B8","x":64,"y":8},{"k":"B8","x":66,"y":7.6},{"k":"B8","x":67.5,"y":7.6},{"k":"B8","x":68.3,"y":7.8},{"k":"B8","x":69,"y":7.4},{"k":"B8","x":70,"y":6.9},{"k":"B8","x":71,"y":6.9},{"k":"B8","x":72,"y":7.5},{"k":"B8","x":73,"y":8.2},{"k":"B8","x":74,"y":7.8},{"k":"B8","x":75,"y":8.4},{"k":"B8","x":76,"y":8.8},{"k":"B8","x":77,"y":8.5},
{"k":"B8","x":77.5,"y":8.6},{"k":"B8","x":78,"y":10},{"k":"B8","x":78.5,"y":13},{"k":"B8","x":79,"y":19},{"k":"B8","x":79.3,"y":30},{"k":"B8","x":79.6,"y":68},{"k":"B8","x":79.9,"y":112},{"k":"B8","x":80.1,"y":139},{"k":"B8","x":80.25,"y":152},{"k":"B8","x":80.4,"y":157},{"k":"B8","x":80.55,"y":144},{"k":"B8","x":80.7,"y":122},{"k":"B8","x":80.9,"y":96},{"k":"B8","x":81.1,"y":72},{"k":"B8","x":81.3,"y":42},{"k":"B8","x":81.5,"y":15},{"k":"B8","x":81.7,"y":0.5},{"k":"B8","x":82,"y":-4},
{"k":"B8","x":82.3,"y":-4.4},{"k":"B8","x":82.6,"y":-4.5},{"k":"B8","x":83,"y":-3.2},{"k":"B8","x":83.4,"y":-1.3},{"k":"B8","x":83.8,"y":-0.2},{"k":"B8","x":84.4,"y":0.4},{"k":"B8","x":85,"y":0.5},{"k":"B8","x":86,"y":0.6},{"k":"B8","x":87,"y":0.5},{"k":"B8","x":88,"y":0.5},{"k":"B8","x":90,"y":0.4},{"k":"B8","x":92,"y":0.4},{"k":"B8","x":94.6,"y":0.3},

{"k":"B2","x":59.75,"y":3},{"k":"B2","x":60.3,"y":4.5},{"k":"B2","x":61,"y":7.5},{"k":"B2","x":62,"y":8.6},{"k":"B2","x":64,"y":8.6},{"k":"B2","x":66,"y":9.3},{"k":"B2","x":67.5,"y":9.6},{"k":"B2","x":68.3,"y":10},{"k":"B2","x":69,"y":8.2},{"k":"B2","x":70,"y":6.8},{"k":"B2","x":71,"y":7},{"k":"B2","x":72,"y":7.6},{"k":"B2","x":73,"y":8.2},{"k":"B2","x":74,"y":7.6},{"k":"B2","x":75,"y":6},{"k":"B2","x":76,"y":5.8},{"k":"B2","x":77,"y":6.5},
{"k":"B2","x":77.5,"y":8},{"k":"B2","x":78,"y":9.9},{"k":"B2","x":78.5,"y":12.7},{"k":"B2","x":79,"y":18.2},{"k":"B2","x":79.3,"y":27.6},{"k":"B2","x":79.6,"y":66.1},{"k":"B2","x":79.9,"y":113.2},{"k":"B2","x":80.1,"y":143},{"k":"B2","x":80.25,"y":158},{"k":"B2","x":80.4,"y":165},{"k":"B2","x":80.55,"y":154},{"k":"B2","x":80.7,"y":132.6},{"k":"B2","x":80.9,"y":104.9},{"k":"B2","x":81.1,"y":79.9},{"k":"B2","x":81.3,"y":48.5},{"k":"B2","x":81.5,"y":18.8},{"k":"B2","x":81.7,"y":1.6},{"k":"B2","x":82,"y":-4.1},
{"k":"B2","x":82.3,"y":-4.6},{"k":"B2","x":82.6,"y":-4.7},{"k":"B2","x":83,"y":-3.4},{"k":"B2","x":83.4,"y":-1.4},{"k":"B2","x":83.8,"y":-0.2},{"k":"B2","x":84.4,"y":0.5},{"k":"B2","x":85,"y":0.7},{"k":"B2","x":86,"y":0.7},{"k":"B2","x":87,"y":0.6},{"k":"B2","x":88,"y":0.6},{"k":"B2","x":90,"y":0.7},{"k":"B2","x":92,"y":0.5},{"k":"B2","x":94.6,"y":0.5},

{"k":"B9","x":59.75,"y":3.2},{"k":"B9","x":60.3,"y":4.6},{"k":"B9","x":61,"y":7.6},{"k":"B9","x":62,"y":8.6},{"k":"B9","x":64,"y":8.4},{"k":"B9","x":66,"y":8.4},{"k":"B9","x":67.5,"y":9.2},{"k":"B9","x":68.3,"y":10.8},{"k":"B9","x":69,"y":8.6},{"k":"B9","x":70,"y":6.8},{"k":"B9","x":71,"y":6.8},{"k":"B9","x":72,"y":7.5},{"k":"B9","x":73,"y":8.4},{"k":"B9","x":74,"y":7.4},{"k":"B9","x":75,"y":7.2},{"k":"B9","x":76,"y":7.4},{"k":"B9","x":77,"y":7.8},
{"k":"B9","x":77.5,"y":8.5},{"k":"B9","x":78,"y":9.9},{"k":"B9","x":78.5,"y":12.8},{"k":"B9","x":79,"y":18.5},{"k":"B9","x":79.3,"y":28.1},{"k":"B9","x":79.6,"y":67.6},{"k":"B9","x":79.9,"y":115.9},{"k":"B9","x":80.1,"y":146.5},{"k":"B9","x":80.25,"y":161.8},{"k":"B9","x":80.4,"y":169},{"k":"B9","x":80.55,"y":157.7},{"k":"B9","x":80.7,"y":135.8},{"k":"B9","x":80.9,"y":107.4},{"k":"B9","x":81.1,"y":81.8},{"k":"B9","x":81.3,"y":49.7},{"k":"B9","x":81.5,"y":19.2},{"k":"B9","x":81.7,"y":1.6},{"k":"B9","x":82,"y":-4.2},
{"k":"B9","x":82.3,"y":-4.8},{"k":"B9","x":82.6,"y":-4.9},{"k":"B9","x":83,"y":-3.6},{"k":"B9","x":83.4,"y":-1.5},{"k":"B9","x":83.8,"y":-0.3},{"k":"B9","x":84.4,"y":0.4},{"k":"B9","x":85,"y":0.6},{"k":"B9","x":86,"y":0.6},{"k":"B9","x":87,"y":0.5},{"k":"B9","x":88,"y":0.5},{"k":"B9","x":90,"y":0.5},{"k":"B9","x":92,"y":0.4},{"k":"B9","x":94.6,"y":0.4}
]
},
"data": {"name": "curves"},
"transform": [{"lookup": "k", "from": {"data": {"name": "names"}, "key": "k", "fields": ["n"]}}],
"mark": {"type": "line", "strokeWidth": 1.4, "interpolate": "monotone", "clip": true},
"encoding": {
"x": {"field": "x", "type": "quantitative",
 "scale": {"domain": [59.42, 95], "nice": false, "zero": false},
 "axis": {"title": "Temperature (°C)", "values": [60,65,70,75,80,85,90,95], "domain": false, "grid": false,
  "tickSize": 5, "tickColor": "#555", "tickWidth": 1,
  "labelFont": "Liberation Sans", "labelFontSize": 16, "labelColor": "#333", "labelPadding": 3, "labelFlush": false,
  "titleFont": "Liberation Sans", "titleFontSize": 17, "titleFontWeight": "bold", "titleColor": "#222", "titlePadding": 3}},
"y": {"field": "y", "type": "quantitative",
 "scale": {"domain": [-20.0, 185.7], "nice": false, "zero": false},
 "axis": {"title": "-(d/dT) Fluorescence (465-510)",
  "values": [-19.05,-16.05,-13.05,-10.05,-7.05,-4.05,-1.05,1.95,4.95,7.95,10.95,13.95,16.95,19.95,22.95,25.95,28.95,31.95,34.95,37.95,40.95,43.95,46.95,49.95,52.95,55.95,58.95,61.95,64.95,67.95,70.95,73.95,76.95,79.95,82.95,85.95,88.95,91.95,94.95,97.95,100.95,103.95,106.95,109.95,112.95,115.95,118.95,121.95,124.95,127.95,130.95,133.95,136.95,139.95,142.95,145.95,148.95,151.95,154.95,157.95,160.95,163.95,166.95,169.95,172.95,175.95,178.95,181.95,184.95],
  "labelExpr": "abs((datum.value + 7.05) / 15 - round((datum.value + 7.05) / 15)) < 0.01 ? replace(format(datum.value, '.3f'), '−', '-') : ''",
  "tickSize": {"condition": {"test": "abs((datum.value + 7.05) / 15 - round((datum.value + 7.05) / 15)) < 0.01", "value": 6}, "value": 3},
  "labelOverlap": false, "domain": false, "grid": false, "tickColor": "#555",
  "labelFontSize": 15, "labelColor": "#333", "labelPadding": 1,
  "titleFontSize": 17, "titleFontWeight": "bold", "titleColor": "#222", "titlePadding": 6}},
"color": {"field": "n", "type": "nominal",
 "scale": {"domain": ["B2: 0% Met","B3: 0% Met","B8: 0% Met","B9: 0% Met","C2: Calibration Control 1","C3: Calibration Control 1","C8: Calibration Control 1","C9: Calibration Control 1","D2: Calibration Control 2","D3: Calibration Control 2","D8: Calibration Control 2","D9: Calibration Control 2","E2: Calibration Control 3","E3: Calibration Control 3","E8: Calibration Control 3","E9: Calibration Control 3","F2: 100% Met","F3: 100% Met","F8: 100% Met","F9: 100% Met","G2: Negative Control","G3: Negative Control","G8: Negative Control","G9: Negative Control"],
  "range": ["#b5343c","#2fae62","#3fd6d0","#22313f","#b5343c","#2fae62","#3fd6d0","#22313f","#b5343c","#2fae62","#3fd6d0","#22313f","#b5343c","#2fae62","#3fd6d0","#22313f","#b5343c","#2fae62","#3fd6d0","#22313f","#b5343c","#2fae62","#3fd6d0","#22313f"]},
 "legend": {"orient": "none", "legendX": -11, "legendY": -160, "columns": 4, "direction": "horizontal", "title": null,
  "symbolType": "stroke", "symbolSize": 1369, "symbolStrokeWidth": 1.6, "symbolOffset": 3,
  "labelOffset": 7, "labelFontSize": 16, "labelColor": "#333", "labelLimit": 400,
  "clipHeight": 21.8, "rowPadding": 0, "columnPadding": 10, "padding": 3,
  "strokeColor": "#555", "fillColor": "white"}}
}
}
